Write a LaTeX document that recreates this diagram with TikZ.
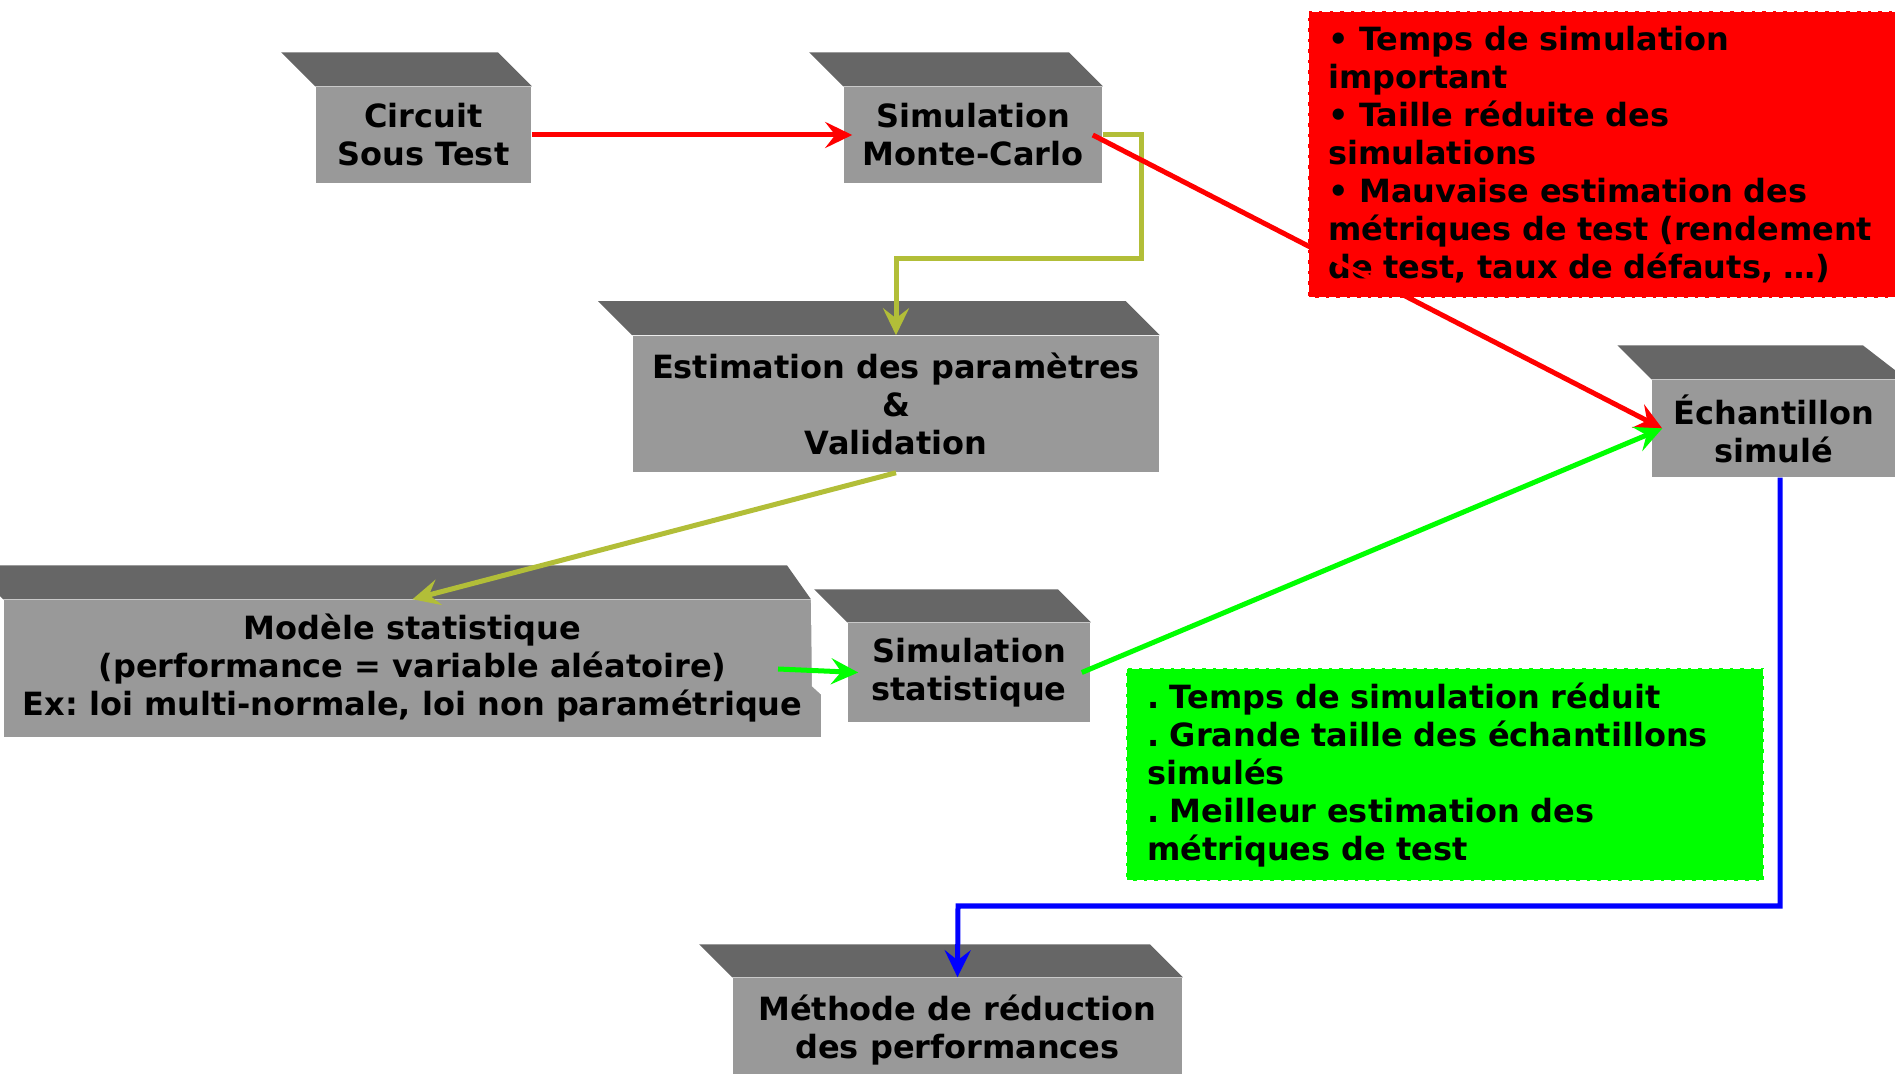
\documentclass[tikz,border=0pt]{standalone}
\usepackage{fontspec}
\setmainfont{DejaVu Sans}
\usetikzlibrary{arrows.meta, calc}
\frenchspacing

\definecolor{topgray}{HTML}{666666}
\definecolor{frontgray}{HTML}{999999}
\definecolor{olivelink}{RGB}{178,190,56}

\tikzset{
    frontface/.style={fill=frontgray, inner sep=0pt, align=center, font=\bfseries\fontsize{9.1}{10.8}\selectfont},
    topface/.style={fill=topgray},
    notebox/.style={draw=white, line width=0.6pt, dash pattern=on 2pt off 1pt, inner xsep=0.2cm, inner ysep=0pt, align=left, anchor=north west, font=\bfseries\fontsize{9.1}{10.8}\selectfont},
    link/.style={line width=0.05cm, -{Stealth[length=0.27cm, width=0.26cm, inset=0.1cm]}},
}

\begin{document}
\begin{tikzpicture}[x=0.01cm, y=-0.01cm]
    \useasboundingbox (0,0) rectangle (1895,1074);
    \clip (0,0) rectangle (1895,1074);
    %%% Top row
    \node[frontface, minimum width=2.15cm, minimum height=0.96cm] (circuit) at (423.5,135) {Circuit\\Sous Test};
    \fill[topface] ($(circuit.north west)+(-34,-34)$) -- ($(circuit.north east)+(-34,-34)$) -- (circuit.north east) -- (circuit.north west) -- cycle;
    %
    \node[frontface, minimum width=2.58cm, minimum height=0.96cm] (montecarlo) at (973,135) {Simulation\\Monte-Carlo};
    \fill[topface] ($(montecarlo.north west)+(-34,-34)$) -- ($(montecarlo.north east)+(-34,-34)$) -- (montecarlo.north east) -- (montecarlo.north west) -- cycle;
    %
    \node[frontface, minimum width=5.26cm, minimum height=1.36cm] (estimation) at (896,404) {Estimation des paramètres\\\&\\Validation};
    \fill[topface] ($(estimation.north west)+(-34,-34)$) -- ($(estimation.north east)+(-34,-34)$) -- (estimation.north east) -- (estimation.north west) -- cycle;
    %
    \node[frontface, minimum width=2.44cm, minimum height=0.97cm] (sample) at (1774,428.5) {Échantillon\\simulé};
    \fill[topface] ($(sample.north west)+(-34,-34)$) -- ($(sample.north east)+(-34,-34)$) -- ($(sample.north east)+(10,0)$) -- (sample.north west) -- cycle;
    \fill[frontgray] (sample.north east) rectangle ($(sample.south east)+(10,0)$); % runs off the page
    %
    %%% Middle row
    \node[frontface, minimum width=8.17cm, minimum height=1.37cm] (model) at (412.5,668.5) {Modèle statistique\\(performance = variable aléatoire)\\Ex: loi multi-normale, loi non paramétrique};
    \fill[topface] ($(model.north west)+(-34,-34)$) -- ($(model.north east)+(-35,-34)$) -- ($(model.north east)+(-11,0)$) -- (model.north west) -- cycle;
    \fill[white] ($(model.north east)+(-11,0)$) -- ($(model.north east)+(1,0)$) -- ($(model.north east)+(1,97)$) -- ($(model.north east)+(-10,87)$) -- cycle; % notch
    %
    \node[frontface, minimum width=2.42cm, minimum height=0.99cm] (statsim) at (969,672.5) {Simulation\\statistique};
    \fill[topface] ($(statsim.north west)+(-33,-33)$) -- ($(statsim.north east)+(-33,-33)$) -- (statsim.north east) -- (statsim.north west) -- cycle;
    %
    %%% Bottom
    \node[frontface, minimum width=4.49cm, minimum height=1.04cm] (reduction) at (957.5,1030) {Méthode de réduction\\des performances};
    \fill[topface] ($(reduction.north west)+(-33,-33)$) -- ($(reduction.north east)+(-33,-33)$) -- (reduction.north east) -- (reduction.north west) -- cycle;
    %
    %%% Notes
    \node[notebox, fill=red, text width=5.6cm, minimum height=2.87cm] (drawbacks) at (1307,10) {\rule{0pt}{3pt}• Temps de simulation\\important\\• Taille réduite des\\simulations\\• Mauvaise estimation des\\métriques de test (rendement\\de test, taux de défauts, …)};
    \node[notebox, fill=green, inner xsep=0.21cm, text width=5.96cm, minimum height=2.13cm] (benefits) at (1125,667) {. Temps de simulation réduit\\. Grande taille des échantillons\\simulés\\. Meilleur estimation des\\métriques de test};
    %
    %%% Links
    \coordinate (olivebend) at (1141,259);
    \coordinate (greenstart) at (778,669);
    \coordinate (bluebend) at (958,906);
    \draw[link, red] (circuit.east) -- ($(montecarlo.west)+(9,0)$);
    \draw[link, olivelink] (montecarlo.east) -| (olivebend) -| (estimation.north);
    \draw[link, red] ($(montecarlo.east)+(-10,0)$) -- ($(sample.west)+(11,0)$);
    \draw[link, olivelink] (estimation.south) -- (model.north);
    \draw[link, green] (greenstart) -- ($(statsim.west)+(11,0)$);
    \draw[link, green] ($(statsim.east)+(-9,0)$) -- ($(sample.west)+(11,0)$);
    \draw[link, blue] ($(sample.south)+(6,0)$) |- (bluebend) -- (reduction.north);
\end{tikzpicture}
\end{document}
